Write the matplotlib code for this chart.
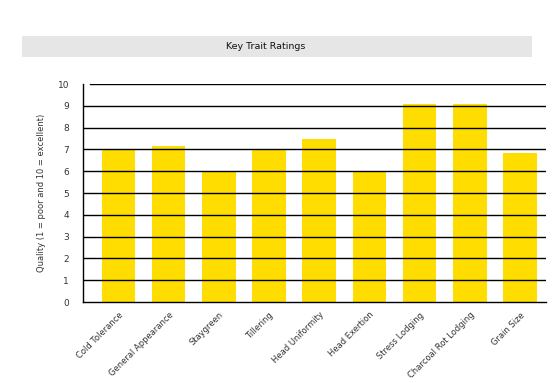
import matplotlib
matplotlib.use("Agg")
import matplotlib.pyplot as plt
from matplotlib.patches import Rectangle

categories = ["Cold Tolerance", "General Appearance", "Staygreen", "Tillering",
              "Head Uniformity", "Head Exertion", "Stress Lodging",
              "Charcoal Rot Lodging", "Grain Size"]
ratings = [7.0, 7.15, 6.0, 7.0, 7.5, 6.0, 9.1, 9.1, 6.85]
yticks = list(range(0, 11))

W, H = 559, 383
fig = plt.figure(figsize=(W / 100, H / 100), dpi=100)
plt.rcParams['font.family'] = ['DejaVu Sans']

# title band
fig.patches.append(Rectangle((22 / W, 1 - 57 / H), (532 - 22) / W, 21 / H,
                             transform=fig.transFigure, facecolor="#e6e6e6",
                             edgecolor="none", zorder=0))
fig.text(266 / W, 1 - 46.5 / H, "Key Trait Ratings", ha="center", va="center",
         fontsize=6.8, color="#111111")

ax = fig.add_axes([83 / W, 1 - 302 / H, (546 - 83) / W, (302 - 84) / H])
x = list(range(len(categories)))
ax.bar(x, ratings, width=0.67, color="#ffdd00", zorder=1)
for v in yticks[1:]:
    ax.axhline(v, color="black", lw=1.0, zorder=2,
               xmin=(0.015 if v == 10 else 0))
ax.set_xlim(-0.707, 8.52)
ax.set_ylim(0, 10)
ax.set_yticks(yticks)
ax.set_yticklabels([str(t) for t in yticks], fontsize=6.5, color="#333333")
ax.tick_params(axis="y", length=0, pad=10)
ax.set_xticks(x)
ax.set_xticklabels(categories, rotation=45, ha="right", rotation_mode="anchor",
                   fontsize=6, color="#333333")
ax.tick_params(axis="x", length=0, pad=6)
for s in ["top", "right"]:
    ax.spines[s].set_visible(False)
ax.spines["left"].set_color("black")
ax.spines["bottom"].set_color("black")
ax.spines["left"].set_linewidth(1.0)
ax.spines["bottom"].set_linewidth(1.0)
ax.set_ylabel("Quality (1 = poor and 10 = excellent)", fontsize=6,
              color="#333333", labelpad=8)

fig.savefig("out.png", dpi=100, facecolor="white")
